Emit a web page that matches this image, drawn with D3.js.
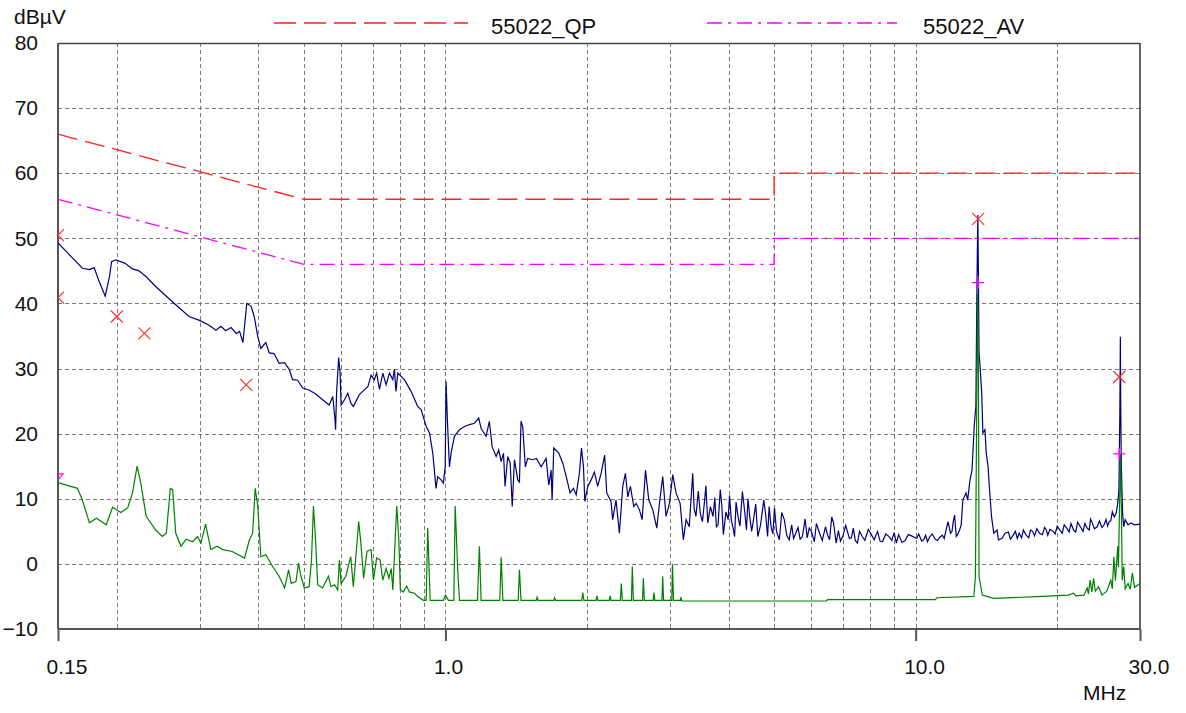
<!DOCTYPE html>
<html lang="en">
<head>
<meta charset="UTF-8">
<title>55022 conducted emission</title>
<style>
  *{margin:0;padding:0;}
  body{background:#fff;}
  svg text{font-family:"Liberation Sans",Arial,sans-serif;font-size:21px;fill:#111;}
</style>
</head>
<body>
<div id="chart"></div>
<script src="https://cdn.jsdelivr.net/npm/d3@7/dist/d3.min.js"></script>
<script>
// limit lines [MHz, dBuV]
var qpLimit = [[0.15,66],[0.5,56],[5,56],[5,60],[30,60]];
var avLimit = [[0.15,56],[0.5,46],[5,46],[5,50],[30,50]];

// peak detector sweep (blue)
var peakTrace = [
  [0.150,49.3],[0.161,47.0],[0.169,45.4],[0.175,45.2],[0.179,45.5],[0.183,43.6],[0.189,41.1],[0.193,44.1],
  [0.195,46.4],[0.199,46.7],[0.208,46.2],[0.216,45.3],[0.223,45.0],[0.231,44.1],[0.242,42.6],[0.255,41.1],
  [0.267,39.8],[0.285,38.0],[0.300,37.4],[0.315,36.6],[0.325,35.9],[0.333,36.5],[0.341,35.8],[0.350,36.3],
  [0.359,35.4],[0.365,35.7],[0.371,34.0],[0.378,40.0],[0.386,39.6],[0.392,38.0],[0.399,34.9],[0.405,33.1],
  [0.415,34.0],[0.422,32.4],[0.432,32.3],[0.443,30.8],[0.455,30.9],[0.466,29.8],[0.473,28.3],[0.485,28.2],
  [0.497,27.0],[0.513,26.7],[0.530,26.1],[0.548,25.2],[0.566,24.4],[0.576,25.7],[0.582,22.4],[0.584,20.6],
  [0.587,26.5],[0.593,31.7],[0.597,29.3],[0.600,24.4],[0.610,25.2],[0.620,26.2],[0.630,24.6],[0.637,24.2],
  [0.651,25.5],[0.656,26.0],[0.667,26.5],[0.684,27.2],[0.695,29.0],[0.706,28.3],[0.714,29.3],[0.724,26.8],
  [0.736,29.3],[0.748,27.5],[0.760,29.3],[0.773,28.3],[0.779,29.9],[0.785,26.5],[0.792,29.3],[0.818,28.3],
  [0.845,26.5],[0.873,24.2],[0.888,23.7],[0.910,21.1],[0.925,20.1],[0.940,17.0],[0.955,11.6],[0.963,13.4],
  [0.979,12.9],[0.990,12.4],[0.999,14.9],[1.003,28.0],[1.011,21.1],[1.020,14.9],[1.028,17.0],[1.045,19.6],
  [1.071,20.6],[1.098,21.1],[1.125,21.4],[1.153,21.6],[1.177,22.4],[1.191,20.8],[1.220,19.6],[1.240,21.9],
  [1.257,18.0],[1.282,16.5],[1.298,17.5],[1.314,15.7],[1.329,17.0],[1.339,11.9],[1.357,16.5],[1.373,15.5],
  [1.387,8.8],[1.402,16.0],[1.425,12.9],[1.437,12.6],[1.448,21.9],[1.460,21.1],[1.479,14.9],[1.496,16.2],
  [1.533,16.0],[1.562,16.2],[1.598,14.9],[1.637,16.2],[1.659,12.1],[1.678,14.4],[1.686,9.8],[1.700,17.8],
  [1.742,17.0],[1.776,15.5],[1.807,13.4],[1.841,10.9],[1.871,11.6],[1.897,10.6],[1.927,13.9],[1.947,17.8],
  [1.966,14.9],[1.979,9.6],[2.008,11.9],[2.041,12.9],[2.074,14.1],[2.108,11.9],[2.143,13.9],[2.181,16.7],
  [2.203,10.9],[2.250,9.6],[2.268,6.8],[2.306,9.8],[2.344,4.7],[2.383,11.9],[2.414,13.9],[2.443,10.3],
  [2.474,11.9],[2.515,8.8],[2.544,9.3],[2.586,8.3],[2.620,6.8],[2.664,14.4],[2.707,9.8],[2.761,8.3],
  [2.815,5.5],[2.852,9.3],[2.898,13.4],[2.946,7.3],[2.995,9.3],[3.044,13.7],[3.093,10.9],[3.156,9.3],
  [3.206,3.7],[3.250,6.8],[3.300,5.7],[3.357,13.9],[3.380,8.5],[3.410,7.3],[3.450,11.2],[3.483,7.8],
  [3.520,6.5],[3.553,9.3],[3.580,12.0],[3.614,6.3],[3.660,8.8],[3.707,7.3],[3.740,10.2],[3.769,5.7],
  [3.800,6.0],[3.842,11.4],[3.870,9.0],[3.900,4.5],[3.950,8.0],[3.992,6.8],[4.020,10.5],[4.054,6.8],
  [4.090,5.5],[4.121,4.2],[4.150,9.5],[4.189,7.3],[4.230,5.8],[4.281,11.1],[4.330,8.0],[4.367,5.2],
  [4.400,10.0],[4.437,7.3],[4.480,5.0],[4.521,6.8],[4.570,9.2],[4.617,4.2],[4.680,6.0],[4.753,9.8],
  [4.800,7.5],[4.843,4.2],[4.880,8.8],[4.926,5.7],[4.970,4.6],[5.010,8.6],[5.060,5.0],[5.131,3.7],
  [5.190,7.9],[5.256,6.8],[5.320,4.4],[5.383,3.7],[5.450,6.0],[5.500,3.9],[5.560,4.7],[5.620,5.6],
  [5.680,3.8],[5.743,4.2],[5.820,6.9],[5.880,4.0],[5.939,5.5],[6.000,5.0],[6.090,3.4],[6.150,6.2],
  [6.247,4.7],[6.330,3.6],[6.430,5.7],[6.500,4.4],[6.561,3.7],[6.630,7.2],[6.690,6.3],[6.775,3.2],
  [6.850,5.1],[6.920,3.5],[7.000,4.2],[7.100,5.9],[7.230,3.9],[7.300,4.0],[7.370,5.5],[7.440,3.6],
  [7.520,3.2],[7.600,5.0],[7.700,4.2],[7.800,3.6],[7.930,5.3],[8.040,4.6],[8.160,3.7],[8.300,5.0],
  [8.400,3.5],[8.500,3.4],[8.640,4.6],[8.780,4.2],[8.900,3.6],[9.000,4.8],[9.100,3.2],[9.200,4.5],
  [9.350,3.3],[9.500,3.6],[9.650,4.5],[9.800,4.3],[10.05,3.9],[10.15,4.6],[10.30,3.5],[10.40,3.7],
  [10.50,4.4],[10.60,3.4],[10.72,4.2],[10.85,4.6],[11.00,3.8],[11.13,3.6],[11.26,4.1],[11.40,4.4],
  [11.50,3.9],[11.63,5.5],[11.72,6.5],[11.86,4.7],[11.95,5.0],[12.02,6.5],[12.10,7.5],[12.20,4.2],
  [12.30,4.6],[12.40,5.2],[12.50,6.0],[12.60,9.8],[12.80,10.9],[12.90,9.8],[13.05,12.9],[13.18,14.4],
  [13.32,21.1],[13.43,24.2],[13.50,42.6],[13.56,53.6],[13.60,44.1],[13.64,32.4],[13.71,30.3],[13.82,26.2],
  [13.90,20.1],[14.04,20.6],[14.13,17.0],[14.26,14.9],[14.36,11.4],[14.50,7.3],[14.66,4.7],[14.90,5.2],
  [15.00,3.7],[15.25,3.9],[15.50,4.7],[15.75,4.9],[15.90,3.8],[16.05,4.2],[16.30,5.0],[16.45,3.9],
  [16.60,4.7],[16.80,4.0],[16.95,5.2],[17.15,4.5],[17.40,4.0],[17.55,5.2],[17.73,5.0],[17.90,4.3],
  [18.10,5.4],[18.34,4.7],[18.60,4.5],[18.80,5.6],[18.96,5.2],[19.10,4.4],[19.30,5.3],[19.61,5.0],
  [19.80,4.6],[20.00,5.8],[20.27,5.2],[20.50,4.7],[20.70,6.0],[20.96,5.5],[21.20,4.9],[21.40,6.2],
  [21.67,5.2],[21.90,4.9],[22.10,6.4],[22.40,5.7],[22.70,5.0],[22.90,6.2],[23.16,5.5],[23.40,5.2],
  [23.55,6.9],[23.74,6.3],[24.00,5.4],[24.33,5.7],[24.60,6.6],[24.90,5.6],[25.16,6.0],[25.40,6.8],
  [25.60,5.8],[25.80,6.5],[26.00,6.6],[26.20,8.0],[26.45,7.2],[26.70,7.8],[26.90,9.3],[27.06,11.4],
  [27.18,23.1],[27.25,34.9],[27.30,24.2],[27.38,14.9],[27.55,7.8],[27.70,5.7],[27.90,6.8],[28.30,6.0],
  [28.70,6.3],[29.20,6.0],[30.00,6.1]
];

// average detector sweep (green)
var avgTrace = [
  [0.150,12.5],[0.165,11.6],[0.169,9.8],[0.175,6.3],[0.181,7.0],[0.190,6.0],[0.196,8.7],[0.204,7.9],
  [0.211,8.6],[0.216,10.9],[0.221,15.0],[0.225,12.4],[0.231,7.3],[0.242,5.2],[0.250,4.2],[0.255,4.7],
  [0.260,11.6],[0.263,11.4],[0.267,4.7],[0.274,2.7],[0.281,3.8],[0.290,3.4],[0.297,4.2],[0.302,3.2],
  [0.309,6.1],[0.317,2.2],[0.327,2.7],[0.336,2.2],[0.352,1.9],[0.374,0.9],[0.383,3.7],[0.389,4.7],
  [0.394,11.6],[0.399,8.8],[0.405,1.1],[0.415,1.4],[0.429,-0.4],[0.443,-1.9],[0.455,-3.7],[0.464,-0.9],
  [0.470,-3.0],[0.481,-2.7],[0.487,0.1],[0.493,-1.9],[0.501,-3.7],[0.513,-3.5],[0.519,0.6],[0.524,8.9],
  [0.529,4.2],[0.535,-3.2],[0.548,-3.7],[0.564,-1.9],[0.571,-3.5],[0.581,-3.2],[0.590,-4.0],[0.595,0.6],
  [0.600,-3.0],[0.614,-1.9],[0.629,1.1],[0.637,-3.5],[0.645,1.1],[0.654,6.5],[0.661,3.2],[0.670,-2.2],
  [0.681,1.9],[0.695,2.2],[0.703,-2.5],[0.714,0.9],[0.726,0.6],[0.736,-2.5],[0.748,-0.7],[0.758,-2.2],
  [0.767,-0.7],[0.773,-4.0],[0.783,4.7],[0.788,8.9],[0.796,3.7],[0.802,-4.0],[0.814,-4.3],[0.827,-3.4],
  [0.838,-4.3],[0.859,-4.5],[0.873,-5.0],[0.898,-5.6],[0.910,-5.6],[0.917,5.5],[0.928,-5.6],[0.990,-5.6],
  [1.000,-4.8],[1.015,-5.6],[1.042,-5.6],[1.049,8.9],[1.062,-0.9],[1.071,-5.6],[1.170,-5.6],[1.181,2.7],
  [1.191,-5.6],[1.305,-5.6],[1.314,1.0],[1.325,-5.6],[1.428,-5.6],[1.437,-0.9],[1.448,-5.6],[1.560,-5.6],
  [1.567,-5.1],[1.575,-5.6],[1.700,-5.6],[1.706,-5.2],[1.715,-5.6],[1.950,-5.6],[1.959,-4.4],[1.970,-5.6],
  [2.090,-5.6],[2.100,-4.9],[2.110,-5.6],[2.230,-5.6],[2.240,-4.9],[2.250,-5.6],[2.355,-5.6],[2.366,-3.0],
  [2.378,-5.6],[2.487,-5.6],[2.497,-0.4],[2.510,-5.6],[2.625,-5.6],[2.636,-2.2],[2.648,-5.6],[2.765,-5.6],
  [2.776,-4.4],[2.788,-5.6],[2.887,-5.6],[2.898,-1.9],[2.910,-5.6],[3.030,-5.6],[3.040,0.0],[3.055,-5.6],
  [3.160,-5.6],[3.170,-5.1],[3.180,-5.7],[6.450,-5.7],[6.500,-5.5],[11.00,-5.5],[11.10,-5.2],[13.30,-5.0],
  [13.40,-1.9],[13.47,19.0],[13.54,41.5],[13.60,29.3],[13.64,-1.9],[13.86,-4.8],[14.66,-5.3],[18.60,-5.0],
  [21.10,-4.8],[21.67,-4.5],[21.90,-4.9],[22.80,-4.8],[23.16,-3.7],[23.30,-4.6],[23.50,-2.5],[23.70,-4.3],
  [23.90,-2.2],[24.10,-4.2],[24.50,-3.5],[24.90,-4.8],[25.50,-4.2],[26.00,-2.5],[26.20,-3.8],[26.40,1.1],
  [26.60,-2.6],[26.90,2.7],[27.00,-0.5],[27.18,11.4],[27.25,17.0],[27.40,7.8],[27.50,-2.5],[27.70,-0.4],
  [27.90,-3.8],[28.30,-3.0],[28.60,-3.9],[28.90,-1.4],[29.20,-3.6],[30.00,-3.0]
];

// final measurements
var qpFinal = [[0.15,50.5],[0.15,40.9],[0.2,38.0],[0.229,35.4],[0.377,27.5],[13.58,53.0],[27.1,28.7]];
var avFinal = [[13.58,43.2],[27.1,16.9]];
var avEdge = [[0.15,12.9]];

var yTicks = [-10,0,10,20,30,40,50,60,70,80];
var xTicks = [0.15,1,10,30];
var xLabels = ["0.15","1.0","10.0","30.0"];
var gridFreqs = [0.2,0.3,0.4,0.5,0.6,0.7,0.8,0.9,1,2,3,4,5,6,7,8,9,10,20];

var W = 1186, H = 713,
    pl = 58, pr = 1140, pt = 43, pb = 629;

var svg = d3.select('#chart').append('svg').attr('width', W).attr('height', H);

var x = d3.scaleLog().domain([0.15, 30]).range([pl, pr]);
var y = d3.scaleLinear().domain([-10, 80]).range([pb, pt]);

svg.append('clipPath').attr('id', 'plot')
  .append('rect').attr('x', pl).attr('y', pt).attr('width', pr - pl).attr('height', pb - pt);

// grid
var grid = svg.append('g').attr('stroke', '#7a7a7a').attr('stroke-width', 1).attr('stroke-dasharray', '4,3');
grid.selectAll('.v').data(gridFreqs).enter().append('line')
  .attr('x1', function (d) { return Math.round(x(d)) + 0.5; })
  .attr('x2', function (d) { return Math.round(x(d)) + 0.5; })
  .attr('y1', pt).attr('y2', pb);
grid.selectAll('.h').data(yTicks.slice(1, -1)).enter().append('line')
  .attr('x1', pl).attr('x2', pr)
  .attr('y1', function (d) { return Math.round(y(d)) + 0.5; })
  .attr('y2', function (d) { return Math.round(y(d)) + 0.5; });

// axes
var yAxis = d3.axisLeft(y).tickValues(yTicks).tickSize(0).tickPadding(20);
var gy = svg.append('g').attr('transform', 'translate(' + pl + ',0)').call(yAxis);
gy.select('.domain').remove();
gy.selectAll('text').attr('fill', '#111').style('font-size', '21px');

var xAxis = d3.axisBottom(x).tickValues(xTicks).tickSize(12)
  .tickFormat(function (d, i) { return xLabels[i]; });
var gx = svg.append('g').attr('transform', 'translate(0,' + pb + ')').call(xAxis);
gx.select('.domain').remove();
gx.selectAll('.tick line').attr('stroke', '#555').attr('stroke-width', 2);
gx.selectAll('text').attr('text-anchor', 'start').attr('x', -12).attr('y', 45).attr('dy', 0)
  .attr('fill', '#111').style('font-size', '21px');

// frame
svg.append('line').attr('x1', pl).attr('x2', pr).attr('y1', pt + 0.5).attr('y2', pt + 0.5)
  .attr('stroke', '#444').attr('stroke-width', 1.3);
svg.append('line').attr('x1', pr).attr('x2', pr).attr('y1', pt).attr('y2', pb)
  .attr('stroke', '#333').attr('stroke-width', 1.5);
svg.append('line').attr('x1', pl).attr('x2', pl).attr('y1', pt).attr('y2', pb)
  .attr('stroke', '#555').attr('stroke-width', 2);
svg.append('line').attr('x1', pl).attr('x2', pr).attr('y1', pb).attr('y2', pb)
  .attr('stroke', '#555').attr('stroke-width', 2);

svg.append('text').attr('x', 14).attr('y', 24).text('dBµV');
svg.append('text').attr('x', 1083).attr('y', 700).text('MHz');

var line = d3.line().x(function (d) { return x(d[0]); }).y(function (d) { return y(d[1]); });
var plot = svg.append('g').attr('clip-path', 'url(#plot)');

plot.append('path').datum(qpLimit).attr('d', line).attr('fill', 'none')
  .attr('stroke', '#ff2020').attr('stroke-width', 1.3).attr('stroke-dasharray', '20,8');
plot.append('path').datum(avLimit).attr('d', line).attr('fill', 'none')
  .attr('stroke', '#ff00ff').attr('stroke-width', 1.3).attr('stroke-dasharray', '15,6,3,6');

plot.append('path').datum(peakTrace).attr('d', line).attr('fill', 'none')
  .attr('stroke', '#000080').attr('stroke-width', 1.2);
plot.append('path').datum(avgTrace).attr('d', line).attr('fill', 'none')
  .attr('stroke', '#008000').attr('stroke-width', 1.2);

// markers
plot.selectAll('.qp').data(qpFinal).enter().append('path')
  .attr('transform', function (d) { return 'translate(' + x(d[0]) + ',' + y(d[1]) + ')'; })
  .attr('d', 'M-6,-6L6,6M-6,6L6,-6').attr('stroke', '#ff3030').attr('stroke-width', 1.2);
plot.selectAll('.av').data(avFinal).enter().append('path')
  .attr('transform', function (d) { return 'translate(' + x(d[0]) + ',' + y(d[1]) + ')'; })
  .attr('d', 'M-6,0L6,0M0,-6L0,6').attr('stroke', '#ff00ff').attr('stroke-width', 1.4);
plot.selectAll('.ave').data(avEdge).enter().append('path')
  .attr('transform', function (d) { return 'translate(' + x(d[0]) + ',' + y(d[1]) + ')'; })
  .attr('d', 'M-5,-6L5,-6L0,0Z').attr('fill', 'none').attr('stroke', '#ff00ff').attr('stroke-width', 1.2);

// legend
svg.append('line').attr('x1', 274).attr('x2', 468).attr('y1', 23).attr('y2', 23)
  .attr('stroke', '#ff2020').attr('stroke-width', 1.3).attr('stroke-dasharray', '22,8');
svg.append('text').attr('x', 491).attr('y', 34).style('font-size', '22px').text('55022_QP');
svg.append('line').attr('x1', 707).attr('x2', 897).attr('y1', 23).attr('y2', 23)
  .attr('stroke', '#ff00ff').attr('stroke-width', 1.3).attr('stroke-dasharray', '15,6,3,6');
svg.append('text').attr('x', 923).attr('y', 34).style('font-size', '22px').text('55022_AV');
</script>
</body>
</html>
